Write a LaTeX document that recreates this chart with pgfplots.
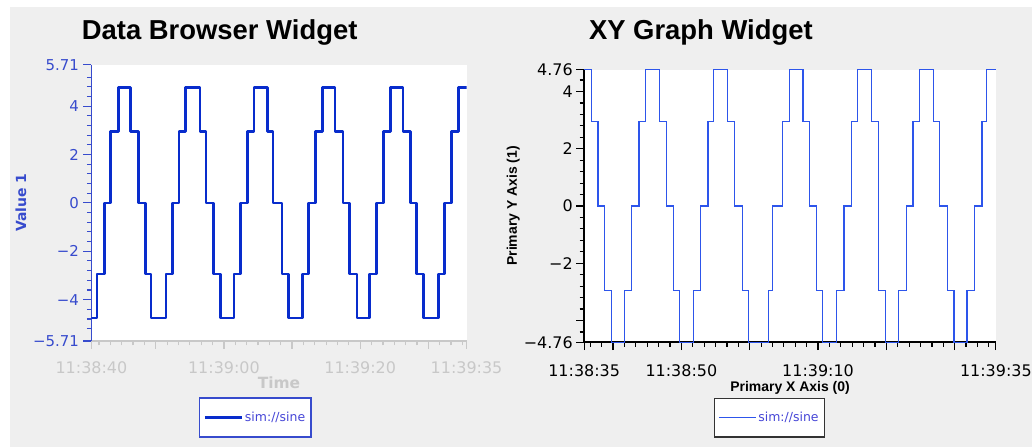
\documentclass[border=0pt]{standalone}
\usepackage{fontspec}
\setmainfont{DejaVu Sans}
\newfontfamily\titlefont{Liberation Sans}
\usepackage{pgfplots}
\pgfplotsset{compat=1.18}
\definecolor{bg}{RGB}{239,239,239}
\definecolor{dbblue}{RGB}{8,44,204}
\definecolor{dbtick}{RGB}{55,75,205}
\definecolor{dbgray}{RGB}{200,200,200}
\definecolor{xyblue}{RGB}{45,85,235}
\definecolor{legtext}{RGB}{70,70,215}
\begin{document}
\begin{tikzpicture}
\fill[white] (0,0) rectangle (1035bp,448bp);
\fill[bg] (10bp,0) rectangle (1035bp,441bp);
\node[anchor=base west, inner sep=0, font=\titlefont\bfseries\fontsize{27.5bp}{27.5bp}\selectfont] at (82bp,408.7bp) {Data Browser Widget};
\node[anchor=base west, inner sep=0, font=\titlefont\bfseries\fontsize{27.5bp}{27.5bp}\selectfont] at (590.7bp,408.7bp) {XY Graph Widget};

% ---------------- Data Browser ----------------
\begin{axis}[
  at={(91.7bp,106bp)}, anchor=south west,
  scale only axis, width=376.3bp, height=277bp,
  xmin=0.56, xmax=55.6, ymin=-5.71, ymax=5.71,
  axis lines=left, axis line style={-, line width=1.6bp},
  x axis line style={dbgray}, y axis line style={dbtick},
  axis background/.style={fill=white},
  tick align=outside,
  major tick length=8bp, minor tick length=4.5bp,
  xtick={0.56,10,20,30,40,50,55.6},
  xticklabels={11:38:40,,11:39:00,,11:39:20,,11:39:35},
  minor xtick={1.667,3.333,5,6.667,8.333,11.667,13.333,15,16.667,18.333,21.667,23.333,25,26.667,28.333,31.667,33.333,35,36.667,38.333,41.667,43.333,45,46.667,48.333,51.667,53.333,55},
  ytick={-5.71,-4,-2,0,2,4,5.71},
  yticklabels={−5.71,−4,−2,0,2,4,5.71},
  minor ytick={-5.2,-4.8,-4.4,-3.6,-3.2,-2.8,-2.4,-1.6,-1.2,-0.8,-0.4,0.4,0.8,1.2,1.6,2.4,2.8,3.2,3.6,4.4,4.8,5.2},
  xtick style={dbgray, line width=1.2bp},
  ytick style={dbtick, line width=1.2bp},
  xticklabel style={dbgray, font=\fontsize{16bp}{16bp}\selectfont, yshift=-9bp},
  yticklabel style={dbtick, font=\fontsize{15bp}{15bp}\selectfont, xshift=-1bp},
  xlabel={Time},
  xlabel style={at={(axis description cs:0.5,-0.13)}, anchor=north, inner sep=0, dbgray, font=\bfseries\fontsize{15.5bp}{15.5bp}\selectfont},
  ylabel={Value 1},
  ylabel style={at={(axis description cs:-0.188,0.5)}, anchor=center, inner sep=0, dbtick, font=\bfseries\fontsize{14bp}{14bp}\selectfont},
  legend style={at={(axis description cs:0.437,-0.277)}, anchor=center, draw=dbtick, line width=1.5bp, fill=white, text=legtext, font=\fontsize{12.5bp}{12.5bp}\selectfont, inner xsep=4bp, inner ysep=12bp},
  legend image code/.code={\draw[#1] (0bp,0bp) -- (37bp,0bp);},
  clip=true,
]
\addplot[const plot, dbblue, line width=2.6bp, line join=round] coordinates {
(0.56,-4.76) (1.4,-2.94) (2.5,0) (3.4,2.94) (4.5,4.76) (6.3,2.94) (7.5,0) (8.5,-2.94) (9.3,-4.76)
(11.5,-2.94) (12.5,0) (13.4,2.94) (14.4,4.76) (16.5,2.94) (17.4,0) (18.5,-2.94) (19.5,-4.76)
(21.5,-2.94) (22.4,0) (23.5,2.94) (24.4,4.76) (26.4,2.94) (27.2,0) (28.5,-2.94) (29.5,-4.76)
(31.5,-2.94) (32.4,0) (33.4,2.94) (34.5,4.76) (36.3,2.94) (37.5,0) (38.4,-2.94) (39.5,-4.76)
(41.4,-2.94) (42.4,0) (43.4,2.94) (44.4,4.76) (46.3,2.94) (47.4,0) (48.3,-2.94) (49.3,-4.76)
(51.5,-2.94) (52.4,0) (53.4,2.94) (54.4,4.76) (55.6,4.76)
};
\addlegendentry{sim://sine}
\end{axis}

% ---------------- XY Graph ----------------
\begin{axis}[
  at={(586bp,104.7bp)}, anchor=south west,
  scale only axis, width=413bp, height=273.3bp,
  xmin=-4.23, xmax=56.03, ymin=-4.76, ymax=4.76,
  axis lines=left, axis line style={-, black, line width=1.6bp},
  axis background/.style={fill=white},
  tick align=outside,
  major tick length=8bp, minor tick length=4.5bp,
  xtick={-4.23,0,10,20,30,40,50,56.03},
  xticklabels={11:38:35,,11:38:50,,11:39:10,,,11:39:35},
  minor xtick={-3.333,-1.667,1.667,3.333,5,6.667,8.333,11.667,13.333,15,16.667,18.333,21.667,23.333,25,26.667,28.333,31.667,33.333,35,36.667,38.333,41.667,43.333,45,46.667,48.333,51.667,53.333,55},
  ytick={-4.76,-4,-2,0,2,4,4.76},
  yticklabels={−4.76,,−2,0,2,4,4.76},
  minor ytick={-4.4,-3.6,-3.2,-2.8,-2.4,-1.6,-1.2,-0.8,-0.4,0.4,0.8,1.2,1.6,2.4,2.8,3.2,3.6,4.4},
  xtick style={black, line width=1.2bp},
  ytick style={black, line width=1.2bp},
  xticklabel style={black, font=\fontsize{16bp}{16bp}\selectfont, yshift=-11bp},
  yticklabel style={black, font=\fontsize{16bp}{16bp}\selectfont},
  xlabel={Primary X Axis (0)},
  xlabel style={at={(axis description cs:0.5,-0.144)}, anchor=north, inner sep=0, black, font=\titlefont\bfseries\fontsize{14bp}{14bp}\selectfont},
  ylabel={Primary Y Axis (1)},
  ylabel style={at={(axis description cs:-0.172,0.5)}, anchor=center, inner sep=0, black, font=\titlefont\bfseries\fontsize{14bp}{14bp}\selectfont},
  legend style={at={(axis description cs:0.45,-0.277)}, anchor=center, draw=black!80, line width=1.5bp, fill=white, text=legtext, font=\fontsize{12.5bp}{12.5bp}\selectfont, inner xsep=4bp, inner ysep=12bp},
  legend image code/.code={\draw[#1] (0bp,0bp) -- (37bp,0bp);},
]
\addplot[const plot, xyblue, line width=1.2bp] coordinates {
(-4.23,4.76) (-3.2,2.94) (-2.2,0) (-1.2,-2.94) (-0.25,-4.76)
(1.7,-2.94) (2.7,0) (3.8,2.94) (4.8,4.76) (6.8,2.94) (7.8,0) (8.9,-2.94) (9.7,-4.76)
(11.8,-2.94) (12.8,0) (13.9,2.94) (14.7,4.76) (16.8,2.94) (17.8,0) (18.9,-2.94) (19.8,-4.76)
(22.8,-2.94) (23.3,0) (24.8,2.94) (25.8,4.76) (27.8,2.94) (28.7,0) (29.8,-2.94) (30.7,-4.76)
(32.7,-2.94) (33.8,0) (34.9,2.94) (35.8,4.76) (37.8,2.94) (38.9,-2.94) (39.9,-4.76)
(41.8,-2.94) (42.9,0) (43.9,2.94) (44.9,4.76) (46.9,2.94) (47.8,0) (49.0,-2.94) (49.9,-4.76)
(51.8,-2.94) (52.9,0) (54.0,2.94) (54.7,4.76) (56.03,4.76)
};
\addlegendentry{sim://sine}
\end{axis}
\end{tikzpicture}
\end{document}
